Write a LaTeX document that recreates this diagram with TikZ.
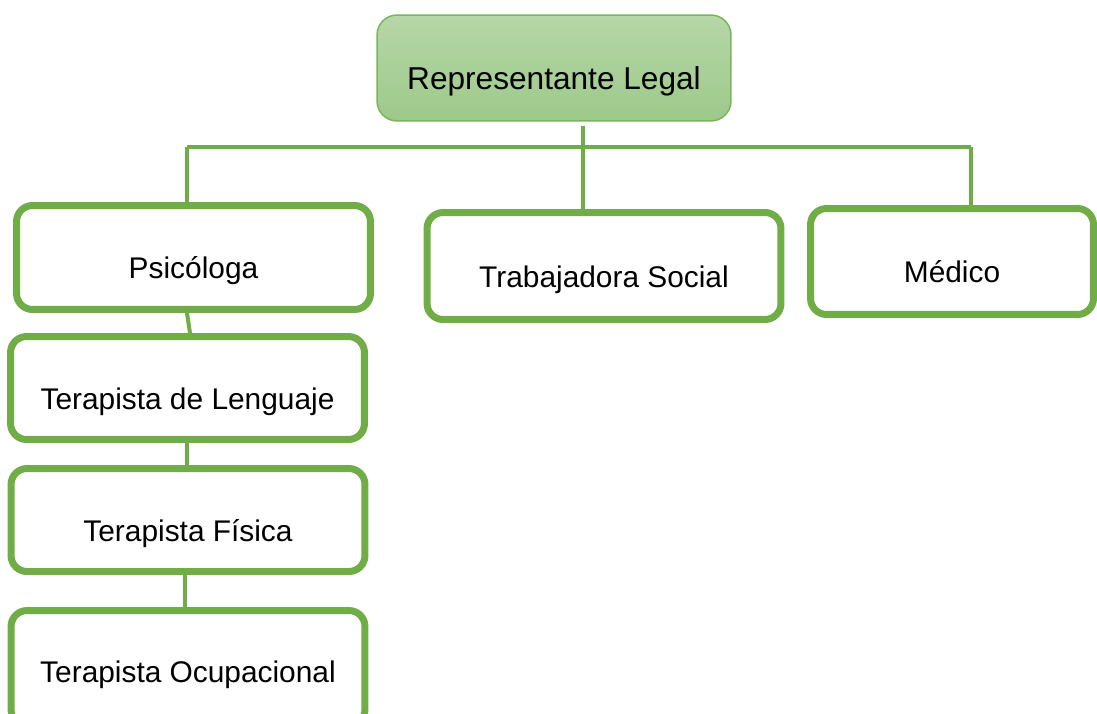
\documentclass[tikz,border=0pt]{standalone}
\usepackage{fontspec}
\setmainfont{Liberation Sans}
\usetikzlibrary{backgrounds}
\definecolor{verde}{HTML}{70AD47}
\definecolor{verdeclaro}{HTML}{B6D7A8}
\definecolor{verdemedio}{HTML}{9DC98A}
\definecolor{verdeborde}{HTML}{7AB55C}

\begin{document}
\begin{tikzpicture}[x=0.02cm,y=-0.02cm,
 cargo/.style={draw=verde,line width=0.14cm,fill=white,rounded corners=0.32cm,
  minimum width=7.08cm,minimum height=2.08cm,text height=24pt,text depth=0pt,
  font=\fontsize{17}{20}\selectfont},
 jefe/.style={draw=verdeborde,line width=0.03cm,top color=verdeclaro,bottom color=verdemedio,
  rounded corners=0.4cm,minimum width=7.08cm,minimum height=2.12cm,text height=25pt,text depth=0pt,
  font=\fontsize{18}{21}\selectfont},
 enlace/.style={draw=verde,line width=0.08cm}]
 \useasboundingbox (0,0) rectangle (1097,713);
 \clip (0,0) rectangle (1097,713);
 % cargos
 \node[jefe] (rep) at (554,68) {Representante Legal};
 \node[cargo] (psi) at (193.5,257.5) {Psicóloga};
 \node[cargo,minimum height=2.14cm] (tra) at (604,266) {Trabajadora Social};
 \node[cargo,minimum width=5.66cm,minimum height=2.12cm] (med) at (952,261.5) {Médico};
 \node[cargo,minimum height=2.06cm] (len) at (187.5,388) {Terapista de Lenguaje};
 \node[cargo,minimum height=2.06cm] (fis) at (188,520) {Terapista Física};
 \node[cargo,minimum height=2.3cm,text height=17pt] (ocu) at (188,668) {Terapista Ocupacional};
 % lineas
 \coordinate (eje) at (583,147);
 \coordinate (izq) at (187,147);
 \coordinate (der) at (971,147);
 \begin{scope}[on background layer]
  \draw[enlace,shorten <=0.08cm] (eje |- rep.south) -- (eje |- tra.north);
  \draw[enlace] (izq) -- (der);
  \draw[enlace] (izq) -- (izq |- psi.north);
  \draw[enlace] (der) -- (der |- med.north);
  \draw[enlace] (izq |- psi.south) -- ([xshift=0.06cm]izq |- len.north);
  \draw[enlace] (izq |- len.south) -- (izq |- fis.north);
  \draw[enlace] ([xshift=-0.04cm]izq |- fis.south) -- ([xshift=-0.04cm]izq |- ocu.north);
 \end{scope}
\end{tikzpicture}
\end{document}
